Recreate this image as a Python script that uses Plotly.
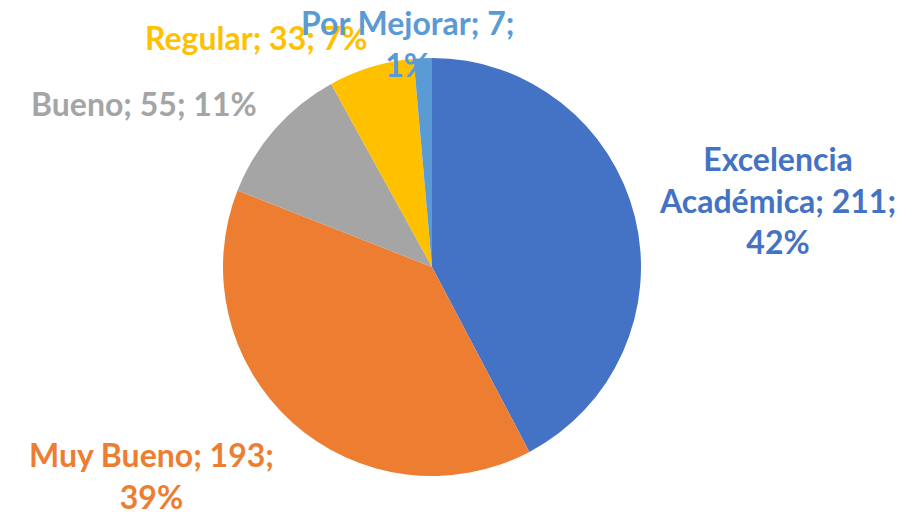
import plotly.graph_objects as go

categories = ["Excelencia Académica", "Muy Bueno", "Bueno", "Regular", "Por Mejorar"]
values = [211, 193, 55, 33, 7]
colors = ["#4472C4", "#ED7D31", "#A5A5A5", "#FFC000", "#5B9BD5"]

total = sum(values)
pcts = [round(v / total * 100) for v in values]
labels_txt = [f"{c}; {v}; {p}%" for c, v, p in zip(categories, values, pcts)]

# line-break layout of the data labels (styling only)
wrapped = [
    labels_txt[0].replace("Excelencia ", "Excelencia<br>").replace("211; ", "211;<br>"),
    labels_txt[1].replace("193; ", "193;<br>"),
    labels_txt[2],
    labels_txt[3],
    labels_txt[4].replace("7; ", "7;<br>"),
]
label_pos = [(777, 200), (151, 475), (144, 103), (256, 37), (407, 43)]

W, H = 921, 512
cx, cy, r = 432, 267, 209

fig = go.Figure(
    go.Pie(
        labels=categories,
        values=values,
        marker=dict(colors=colors, line=dict(width=0)),
        sort=False,
        direction="clockwise",
        rotation=0,
        textinfo="none",
        hoverinfo="label+value+percent",
        showlegend=False,
        domain=dict(x=[(cx - r) / W, (cx + r) / W], y=[(H - cy - r) / H, (H - cy + r) / H]),
    )
)

for txt, (x, y), col in zip(wrapped, label_pos, colors):
    fig.add_annotation(
        x=x / W, y=1 - y / H, xref="paper", yref="paper",
        text=txt, showarrow=False, xanchor="center", yanchor="middle",
        align="center",
        font=dict(family="Lato", size=32, color=col, weight="bold"),
    )

fig.update_layout(
    width=W, height=H,
    margin=dict(l=0, r=0, t=0, b=0),
    paper_bgcolor="white", plot_bgcolor="white",
)

fig.write_html(
    "out.html",
    config={"displayModeBar": False},
    post_script="document.body.style.margin='0';",
)
